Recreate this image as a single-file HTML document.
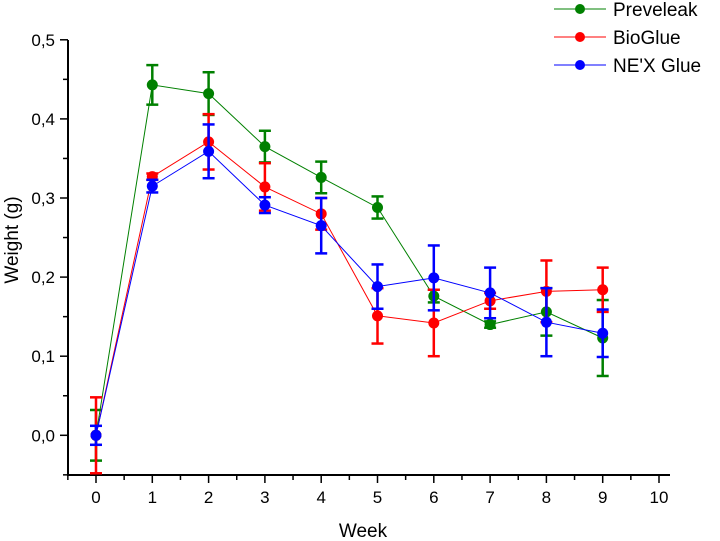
<!DOCTYPE html>
<html><head><meta charset="utf-8"><style>
body{margin:0;background:#fff}
svg{display:block;font-family:"Liberation Sans",sans-serif}
</style></head><body>
<svg id="c" width="720" height="541"></svg>
<script>
const weeks=[0,1,2,3,4,5,6,7,8,9];
const preveleak=[0,0.443,0.432,0.365,0.326,0.288,0.176,0.140,0.156,0.123];
const preveleakErr=[0.032,0.025,0.027,0.020,0.020,0.014,0.008,0.004,0.030,0.048];
const bioglue=[0,0.327,0.371,0.314,0.280,0.151,0.142,0.170,0.182,0.184];
const bioglueErr=[0.048,0.004,0.035,0.030,0.020,0.035,0.042,0.010,0.039,0.028];
const nexglue=[0,0.315,0.359,0.291,0.265,0.188,0.199,0.180,0.143,0.129];
const nexglueErr=[0.012,0.008,0.034,0.010,0.035,0.028,0.041,0.032,0.043,0.030];
const xTicks=[0,1,2,3,4,5,6,7,8,9,10];
const yTicks=[0,0.1,0.2,0.3,0.4,0.5];
const yTickLabels=["0,0","0,1","0,2","0,3","0,4","0,5"];

const NS="http://www.w3.org/2000/svg";
const svg=document.getElementById('c');
function X(v){return 96+v*56.3;}
function Y(v){return 435.3-v*791;}
function mk(t,a,p){const e=document.createElementNS(NS,t);for(const k in a)e.setAttribute(k,a[k]);(p||svg).appendChild(e);return e;}

let ax=mk('line',{x1:68,y1:40,x2:68,y2:475,stroke:'#000','stroke-width':2});


let bx=mk('line',{x1:67,y1:475,x2:670,y2:475,stroke:'#000','stroke-width':2});


xTicks.forEach(v=>{
  mk('line',{x1:X(v),y1:475,x2:X(v),y2:483,stroke:'#000','stroke-width':1.5});
  if(v<10) mk('line',{x1:X(v+0.5),y1:475,x2:X(v+0.5),y2:480,stroke:'#000','stroke-width':1.5});
  const t=mk('text',{x:X(v),y:503,'text-anchor':'middle','font-size':17});
  t.textContent=v;
  
  
});
mk('line',{x1:X(-0.5),y1:475,x2:X(-0.5),y2:480,stroke:'#000','stroke-width':1.5});
yTicks.forEach((v,i)=>{
  mk('line',{x1:60,y1:Y(v),x2:68,y2:Y(v),stroke:'#000','stroke-width':1.5});
  if(v<0.5) mk('line',{x1:63,y1:Y(v+0.05),x2:68,y2:Y(v+0.05),stroke:'#000','stroke-width':1.5});
  const t=mk('text',{x:55,y:Y(v)+6,'text-anchor':'end','font-size':17});
  t.textContent=yTickLabels[i];
  
  
});
mk('line',{x1:63,y1:Y(-0.05),x2:68,y2:Y(-0.05),stroke:'#000','stroke-width':1.5});
let xt=mk('text',{x:363,y:537,'text-anchor':'middle','font-size':19});xt.textContent='Week';


let yt=mk('text',{x:0,y:0,'text-anchor':'middle','font-size':19,transform:'translate(18,240) rotate(-90)'});yt.textContent='Weight (g)';



function series(vals,errs,col,name){
  const g=mk('g',{});
  
  
  mk('polyline',{points:weeks.map((w,i)=>X(w)+','+Y(vals[i])).join(' '),fill:'none',stroke:col,'stroke-width':1},g);
  weeks.forEach((w,i)=>{
    const x=X(w),t=Y(vals[i]+errs[i]),b=Y(vals[i]-errs[i]);
    mk('line',{x1:x,y1:t,x2:x,y2:b,stroke:col,'stroke-width':2.5},g);
    mk('line',{x1:x-6,y1:t,x2:x+6,y2:t,stroke:col,'stroke-width':2.5},g);
    mk('line',{x1:x-6,y1:b,x2:x+6,y2:b,stroke:col,'stroke-width':2.5},g);
    const c=mk('circle',{cx:x,cy:Y(vals[i]),r:5.5,fill:col},g);
    
    
  });
}
series(preveleak,preveleakErr,'#008000','preveleak');
series(bioglue,bioglueErr,'#ff0000','bioglue');
series(nexglue,nexglueErr,'#0000ff','nexglue');

[['Preveleak','#008000',9],['BioGlue','#ff0000',37],["NE'X Glue",'#0000ff',65]].forEach(l=>{
  const g=mk('g',{});
  
  
  mk('line',{x1:554,y1:l[2],x2:606,y2:l[2],stroke:l[1],'stroke-width':1},g);
  mk('circle',{cx:580,cy:l[2],r:5,fill:l[1]},g);
  const t=mk('text',{x:613,y:l[2]+7,'font-size':19},g);t.textContent=l[0];
});
</script>
</body></html>
